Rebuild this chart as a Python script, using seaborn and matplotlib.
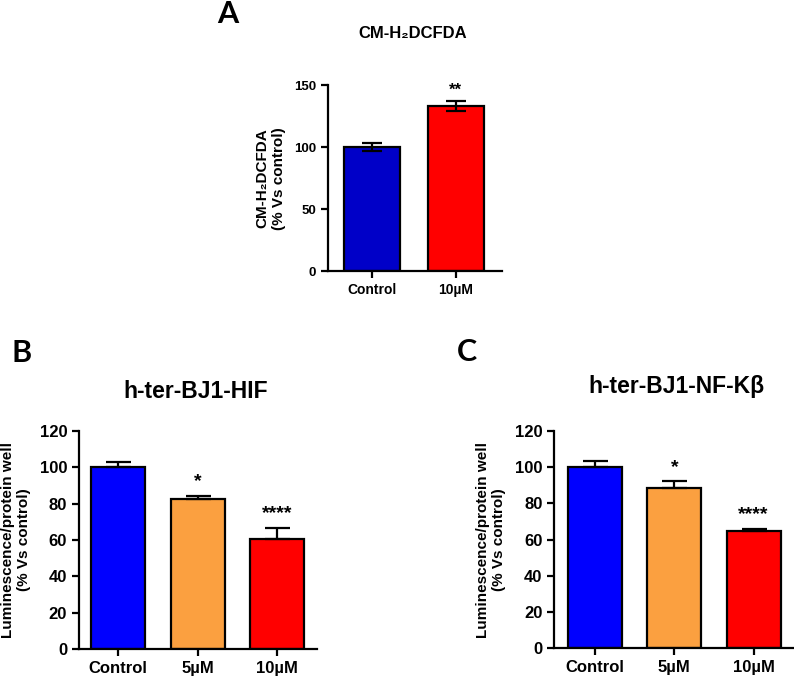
import matplotlib
matplotlib.use("Agg")
import matplotlib.pyplot as plt
import seaborn as sns
import pandas as pd

sns.set_style("ticks")
plt.rcParams['font.family'] = ['Liberation Sans', 'DejaVu Sans']
plt.rcParams['font.weight'] = 'bold'
for k in ['text.color', 'axes.labelcolor', 'xtick.color', 'ytick.color',
          'axes.edgecolor']:
    plt.rcParams[k] = 'black'

# ---- data ----
a_categories = ["Control", "10µM"]
a_values = [100, 133.6]
a_errors = [3.0, 4.0]
a_stars = ["", "**"]

b_categories = ["Control", "5µM", "10µM"]
b_values = [100, 82.4, 60.8]
b_errors = [2.8, 2.0, 5.8]
b_stars = ["", "*", "****"]

c_categories = ["Control", "5µM", "10µM"]
c_values = [100.3, 88.4, 64.6]
c_errors = [3.3, 3.8, 1.3]
c_stars = ["", "*", "****"]

blue_a = "#0000C8"
blue = "#0000FF"
orange = "#FBA040"
red = "#FF0000"

fig = plt.figure(figsize=(7.94, 6.78), dpi=100)


def panel(rect, cats, vals, errs, stars, colors, width, xlim, ylim, yticks,
          ylabel, ytick_fs, xtick_fs, label_fs, star_fs, capsize, both_sides,
          star_off):
    ax = fig.add_axes(rect)
    df = pd.DataFrame({"group": cats, "value": vals})
    sns.barplot(data=df, x="group", y="value", hue="group", palette=colors,
                order=cats, hue_order=cats, legend=False, errorbar=None,
                width=width, edgecolor="black", linewidth=1.6, ax=ax,
                saturation=1)
    xs = list(range(len(cats)))
    if both_sides:
        yerr = errs
    else:
        yerr = [[0] * len(errs), errs]
    ax.errorbar(xs, vals, yerr=yerr, fmt="none", ecolor="black",
                elinewidth=1.6, capsize=capsize, capthick=1.6, zorder=5)
    for x, v, e, s in zip(xs, vals, errs, stars):
        if s:
            ax.text(x, v + e + star_off, s, ha="center", va="bottom",
                    fontsize=star_fs, fontweight="bold")
    ax.set_xlim(*xlim)
    ax.set_ylim(*ylim)
    ax.set_yticks(yticks)
    ax.set_xlabel("")
    ax.set_ylabel(ylabel, fontsize=label_fs, fontweight="bold", labelpad=6)
    for sp in ["top", "right"]:
        ax.spines[sp].set_visible(False)
    for sp in ["left", "bottom"]:
        ax.spines[sp].set_linewidth(1.6)
    ax.tick_params(axis="both", width=1.6, length=5)
    ax.tick_params(axis="y", labelsize=ytick_fs)
    ax.tick_params(axis="x", labelsize=xtick_fs)
    for lbl in ax.get_xticklabels() + ax.get_yticklabels():
        lbl.set_fontweight("bold")
    return ax


axA = panel([0.413, 0.600, 0.219, 0.2743], a_categories, a_values, a_errors,
            a_stars, [blue_a, red], 0.667, (-0.524, 1.548), (0, 150),
            [0, 50, 100, 150], "CM-H₂DCFDA\n(% Vs control)", 9.5, 10, 11,
            12, 7.5, True, 2)

axB = panel([0.0995, 0.0428, 0.2997, 0.3215], b_categories, b_values, b_errors,
            b_stars, [blue, orange, red], 0.68, (-0.49, 2.50), (0, 120),
            list(range(0, 121, 20)), "Luminescence/protein well\n(% Vs control)",
            12, 12, 11, 14, 9, False, 3)

axC = panel([0.698, 0.0442, 0.302, 0.3200], c_categories, c_values, c_errors,
            c_stars, [blue, orange, red], 0.68, (-0.517, 2.51), (0, 120),
            list(range(0, 121, 20)), "Luminescence/protein well\n(% Vs control)",
            12, 12, 11, 14, 9, False, 3)

# titles
fig.text(413 / 794, 1 - 34 / 678, "CM-H₂DCFDA", ha="center", va="center",
         fontsize=12, fontweight="bold")
fig.text(196 / 794, 1 - 391 / 678, "h-ter-BJ1-HIF", ha="center", va="center",
         fontsize=16.5, fontweight="bold")
fig.text(676 / 794, 1 - 387 / 678, "h-ter-BJ1-NF-Kβ", ha="center", va="center",
         fontsize=16.5, fontweight="bold")

# panel letters
for ch, x, y in [("A", 228, 14), ("B", 22, 353), ("C", 467, 352)]:
    fig.text(x / 794, 1 - y / 678, ch, ha="center", va="center",
             fontsize=22, fontweight="bold", family=["Lato", "DejaVu Sans"])

fig.savefig("out.png", dpi=100)
